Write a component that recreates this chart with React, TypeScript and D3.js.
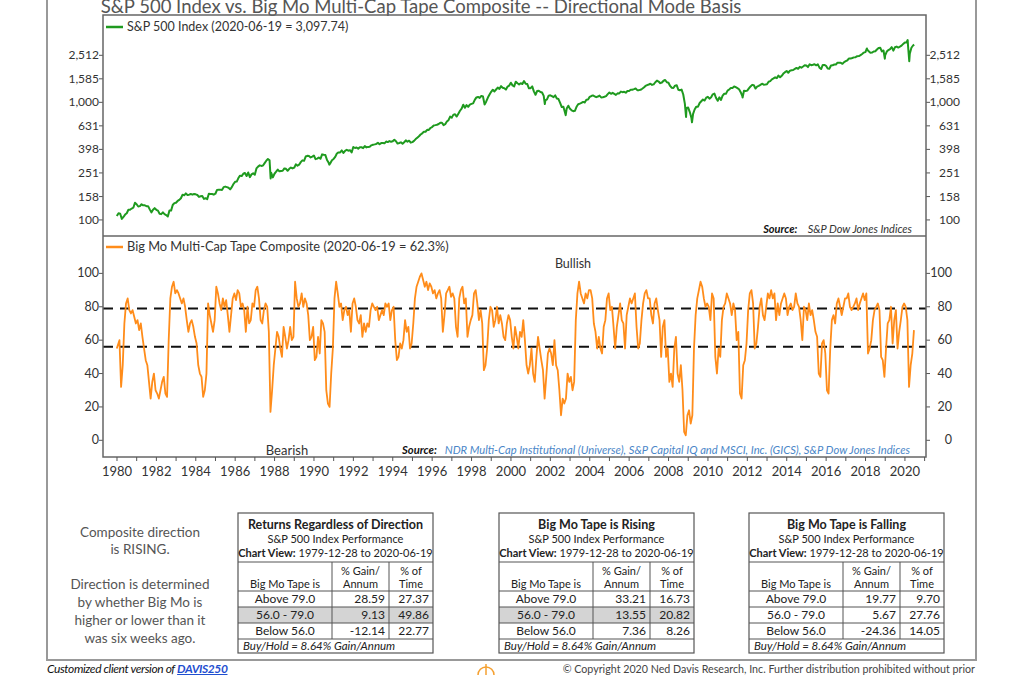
import React from 'react';
import * as d3 from 'd3';

// S&P 500 month-end closes, 1980-01 .. 2020-05 (first point is 1979-12-28)
const spFirst = 107.94;
const spMonthly = [
  114, 113, 102, 106, 111, 114, 122, 122, 125, 127, 140, 136,
  130, 131, 136, 133, 133, 131, 131, 123, 116, 122, 126, 122,
  120, 113, 112, 116, 112, 110, 107, 120, 120, 134, 139, 140,
  145, 148, 153, 164, 162, 168, 163, 164, 166, 164, 166, 165,
  163, 157, 159, 160, 151, 153, 150, 167, 166, 166, 164, 167,
  180, 181, 181, 180, 190, 192, 190, 188, 182, 190, 202, 211,
  212, 227, 238, 236, 247, 251, 236, 253, 231, 244, 249, 242,
  274, 284, 291, 288, 290, 304, 319, 330, 322, 252, 230, 247,
  257, 268, 259, 261, 262, 274, 272, 262, 272, 279, 274, 278,
  297, 289, 295, 310, 321, 318, 346, 351, 349, 340, 346, 353,
  329, 332, 340, 331, 361, 358, 356, 323, 306, 304, 322, 330,
  344, 367, 375, 375, 390, 371, 387, 395, 388, 392, 375, 417,
  409, 413, 404, 415, 415, 408, 424, 414, 418, 419, 431, 436,
  439, 443, 452, 440, 450, 451, 448, 464, 459, 468, 462, 466,
  481, 467, 446, 451, 457, 444, 458, 475, 463, 472, 454, 459,
  470, 487, 501, 515, 533, 545, 562, 562, 584, 582, 605, 616,
  636, 640, 645, 654, 669, 671, 640, 652, 687, 705, 757, 741,
  786, 791, 757, 801, 848, 885, 954, 899, 947, 915, 955, 970,
  980, 1049, 1102, 1112, 1091, 1134, 1121, 957, 1017, 1099, 1164, 1229,
  1280, 1238, 1286, 1335, 1302, 1373, 1329, 1320, 1283, 1363, 1389, 1469,
  1394, 1366, 1499, 1452, 1421, 1455, 1431, 1518, 1437, 1429, 1315, 1320,
  1366, 1240, 1160, 1249, 1256, 1224, 1211, 1134, 1041, 1060, 1139, 1148,
  1130, 1107, 1147, 1077, 1067, 990, 912, 916, 815, 886, 936, 880,
  856, 841, 848, 917, 964, 975, 990, 1008, 996, 1051, 1058, 1112,
  1131, 1145, 1126, 1107, 1121, 1141, 1102, 1104, 1115, 1130, 1174, 1212,
  1181, 1204, 1181, 1157, 1192, 1191, 1234, 1220, 1229, 1207, 1249, 1248,
  1280, 1281, 1295, 1311, 1270, 1270, 1277, 1304, 1336, 1378, 1401, 1418,
  1438, 1407, 1421, 1482, 1531, 1503, 1455, 1474, 1527, 1549, 1481, 1468,
  1379, 1331, 1323, 1386, 1400, 1280, 1267, 1283, 1165, 969, 896, 903,
  826, 735, 798, 873, 919, 919, 987, 1021, 1057, 1036, 1096, 1115,
  1074, 1104, 1169, 1187, 1089, 1031, 1102, 1049, 1141, 1183, 1181, 1258,
  1286, 1327, 1326, 1364, 1345, 1321, 1292, 1219, 1131, 1253, 1247, 1258,
  1312, 1366, 1408, 1398, 1310, 1362, 1379, 1407, 1441, 1412, 1416, 1426,
  1498, 1515, 1569, 1598, 1631, 1606, 1686, 1633, 1682, 1757, 1806, 1848,
  1783, 1859, 1872, 1884, 1924, 1960, 1931, 2003, 1972, 2018, 2068, 2059,
  1995, 2105, 2068, 2086, 2107, 2063, 2104, 1972, 1920, 2079, 2080, 2044,
  1940, 1932, 2060, 2065, 2097, 2099, 2174, 2171, 2168, 2126, 2199, 2239,
  2279, 2364, 2363, 2384, 2412, 2423, 2470, 2472, 2519, 2575, 2648, 2674,
  2824, 2714, 2641, 2648, 2705, 2718, 2816, 2902, 2914, 2712, 2760, 2507,
  2704, 2784, 2834, 2946, 2752, 2942, 2980, 2926, 2977, 3038, 3141, 3231,
  3226, 2954, 2585, 2912, 3044,
];
// intra-month highs/lows visible on the weekly line (fractional year, value)
const spExtra: [number, number][] = [
  [1987.8, 225], [1990.78, 295], [2001.72, 966], [2002.78, 777],
  [2008.89, 752], [2009.19, 677], [2011.76, 1099], [2018.07, 2873],
  [2018.98, 2351], [2020.14, 3386], [2020.22, 2237], [2020.47, 3097.74],
];

// Big Mo Multi-Cap Tape Composite, mid-month readings 1980-01 .. 2020-06
const bigMoMonthly = [
  55, 60, 32, 45, 70, 82, 85, 78, 76, 78, 74, 70,
  72, 66, 70, 62, 55, 48, 45, 35, 25, 35, 40, 30,
  28, 25, 30, 35, 38, 28, 26, 60, 85, 92, 95, 88,
  90, 88, 85, 82, 85, 80, 72, 65, 70, 72, 68, 62,
  58, 45, 40, 38, 26, 30, 40, 82, 75, 70, 65, 72,
  92, 88, 82, 78, 85, 80, 84, 75, 65, 75, 85, 88,
  84, 90, 88, 80, 82, 78, 65, 80, 70, 72, 82, 80,
  90, 92, 85, 72, 70, 78, 82, 80, 65, 17, 30, 45,
  55, 65, 62, 55, 50, 68, 62, 55, 60, 68, 60, 62,
  95, 85, 80, 82, 88, 80, 85, 82, 75, 60, 62, 68,
  48, 50, 62, 52, 72, 70, 65, 30, 22, 20, 40, 55,
  85, 95, 88, 80, 82, 72, 78, 80, 75, 78, 65, 82,
  85, 80, 72, 70, 75, 62, 70, 65, 70, 68, 78, 82,
  80, 78, 80, 72, 75, 78, 75, 82, 80, 82, 72, 78,
  80, 60, 48, 50, 58, 55, 60, 72, 65, 68, 55, 58,
  70, 85, 92, 95, 98, 100, 96, 92, 95, 90, 94, 92,
  88, 90, 85, 88, 90, 85, 65, 75, 88, 90, 92, 86,
  88, 85, 68, 62, 85, 90, 92, 82, 85, 62, 68, 72,
  75, 88, 90, 82, 72, 78, 70, 42, 45, 55, 72, 80,
  78, 68, 72, 80, 70, 75, 70, 62, 60, 70, 75, 72,
  62, 55, 68, 62, 55, 65, 62, 72, 60, 45, 40, 45,
  55, 40, 35, 50, 62, 55, 48, 42, 25, 38, 52, 55,
  52, 45, 60, 45, 42, 30, 15, 25, 22, 25, 40, 35,
  38, 30, 35, 72, 88, 95, 88, 85, 82, 88, 85, 90,
  90, 85, 70, 65, 55, 62, 55, 52, 68, 72, 85, 88,
  78, 80, 68, 55, 68, 75, 82, 72, 70, 55, 75, 80,
  85, 82, 85, 88, 68, 55, 58, 72, 82, 88, 90, 85,
  85, 75, 70, 82, 85, 78, 72, 50, 68, 72, 50, 55,
  35, 40, 32, 55, 62, 40, 35, 45, 30, 5, 3, 15,
  18, 10, 15, 55, 75, 85, 90, 95, 92, 85, 80, 82,
  80, 72, 88, 85, 50, 40, 55, 50, 72, 80, 82, 88,
  85, 82, 75, 82, 78, 60, 65, 28, 25, 45, 48, 58,
  78, 88, 90, 82, 55, 58, 68, 80, 85, 75, 72, 80,
  88, 85, 90, 85, 88, 72, 82, 75, 82, 85, 88, 85,
  75, 80, 82, 78, 80, 88, 82, 80, 72, 60, 80, 78,
  72, 82, 75, 78, 72, 65, 62, 40, 38, 58, 60, 52,
  30, 28, 55, 72, 75, 70, 82, 85, 80, 75, 80, 85,
  85, 88, 80, 78, 80, 82, 85, 78, 82, 85, 88, 84,
  88, 52, 55, 60, 72, 78, 80, 82, 78, 50, 48, 38,
  55, 70, 72, 80, 58, 72, 78, 55, 65, 72, 80, 82,
  80, 72, 32, 45, 52, 66,
];

const spTicks = [100, 158, 251, 398, 631, 1000, 1585, 2512];
const moTicks = [0, 20, 40, 60, 80, 100];
const thresholds = [79, 56];
const yearLabels = [1980, 1982, 1984, 1986, 1988, 1990, 1992, 1994, 1996, 1998, 2000,
  2002, 2004, 2006, 2008, 2010, 2012, 2014, 2016, 2018, 2020];

const tableTitles = ['Returns Regardless of Direction', 'Big Mo Tape is Rising', 'Big Mo Tape is Falling'];
const rowLabels = ['Above 79.0', '56.0 - 79.0', 'Below 56.0'];
const gains = [[28.59, 9.13, -12.14], [33.21, 13.55, 7.36], [19.77, 5.67, -24.36]];
const times = [[27.37, 49.86, 22.77], [16.73, 20.82, 8.26], [9.7, 27.76, 14.05]];
const highlightRow = [1, 1, -1];

const FONT = 'Lato, "Open Sans", sans-serif';
const GREEN = '#1f9a1f';
const ORANGE = '#ff8c1a';

const L = 103, R = 926, T1 = 15, B1 = 236, B2 = 457;

function Table({ i, x0 }: { i: number; x0: number }) {
  const w = 195, c1 = 94, c2 = 151;
  const top = 513, hLine = 562, cLine = 591, rowH = 16, bottom = 653;
  const rows = rowLabels.map((lab, r) => ({ lab, g: gains[i][r], t: times[i][r], y: cLine + r * rowH }));
  const foot = cLine + 3 * rowH;
  return (
    <g fontFamily={FONT} fill="#222">
      {rows.map((r, k) => k === highlightRow[i] ? (
        <rect key={'h' + k} x={x0} y={r.y} width={w} height={rowH} fill="#d4d4d4" />
      ) : null)}
      <rect x={x0} y={top} width={w} height={bottom - top} fill="none" stroke="#555" strokeWidth={1.2} />
      <line x1={x0} x2={x0 + w} y1={hLine} y2={hLine} stroke="#555" />
      <line x1={x0} x2={x0 + w} y1={cLine} y2={cLine} stroke="#555" />
      {rows.map((r, k) => (
        <line key={'l' + k} x1={x0} x2={x0 + w} y1={r.y + rowH} y2={r.y + rowH} stroke="#555" />
      ))}
      <line x1={x0 + c1} x2={x0 + c1} y1={hLine} y2={foot} stroke="#555" />
      <line x1={x0 + c2} x2={x0 + c2} y1={hLine} y2={foot} stroke="#555" />
      <text x={x0 + w / 2} y={529} textAnchor="middle" fontSize={12.5} fontWeight="bold">{tableTitles[i]}</text>
      <text x={x0 + w / 2} y={543} textAnchor="middle" fontSize={11}>S&amp;P 500 Index Performance</text>
      <text x={x0 + w / 2} y={557} textAnchor="middle" fontSize={11}>
        <tspan fontWeight="bold">Chart View:</tspan> 1979-12-28 to 2020-06-19
      </text>
      <text x={x0 + (c1 + c2) / 2} y={575} textAnchor="middle" fontSize={11}>% Gain/</text>
      <text x={x0 + (c1 + c2) / 2} y={588} textAnchor="middle" fontSize={11}>Annum</text>
      <text x={x0 + (c2 + w) / 2} y={575} textAnchor="middle" fontSize={11}>% of</text>
      <text x={x0 + (c2 + w) / 2} y={588} textAnchor="middle" fontSize={11}>Time</text>
      <text x={x0 + c1 / 2} y={588} textAnchor="middle" fontSize={11}>Big Mo Tape is</text>
      {rows.map((r, k) => (
        <g key={'t' + k} fontSize={12}>
          <text x={x0 + c1 / 2} y={r.y + 12} textAnchor="middle">{r.lab}</text>
          <text x={x0 + c2 - 4} y={r.y + 12} textAnchor="end">{r.g.toFixed(2)}</text>
          <text x={x0 + w - 4} y={r.y + 12} textAnchor="end">{r.t.toFixed(2)}</text>
        </g>
      ))}
      <text x={x0 + 5} y={foot + 11} fontSize={11.5} fontStyle="italic">Buy/Hold = 8.64% Gain/Annum</text>
    </g>
  );
}

export default function App() {
  const x = d3.scaleLinear().domain([1979.29, 2021.07]).range([L, R]);
  const ySp = d3.scaleLog().domain([73, 5530]).range([B1, T1]);
  const yMo = d3.scaleLinear().domain([-10, 122.4]).range([B2, B1]);

  const spPts: [number, number][] = [[1979.99, spFirst]];
  spMonthly.forEach((v, i) => spPts.push([1980 + Math.floor(i / 12) + ((i % 12) + 1) / 12 - 0.004, v]));
  spExtra.forEach(p => spPts.push(p));
  spPts.sort((a, b) => a[0] - b[0]);

  const moPts: [number, number][] = bigMoMonthly.map((v, i) => [1980 + Math.floor(i / 12) + ((i % 12) + 0.5) / 12, v]);
  moPts[0] = [1979.99, bigMoMonthly[0]];

  const spPath = d3.line<[number, number]>().x(d => x(d[0])).y(d => ySp(d[1]))(spPts) as string;
  const moPath = d3.line<[number, number]>().x(d => x(d[0])).y(d => yMo(d[1]))(moPts) as string;

  const years = d3.range(1980, 2022);

  return (
    <svg width={1024} height={675} style={{ position: 'absolute', left: 0, top: 0, background: '#fff' }} fontFamily={FONT}>
      {/* outer frame */}
      <path d="M47,-2 V660 H976 V-2" fill="none" stroke="#999" strokeWidth={2} />
      <text x={421} y={13} textAnchor="middle" fontSize={18.5} fill="#555">
        S&amp;P 500 Index vs. Big Mo Multi-Cap Tape Composite -- Directional Mode Basis
      </text>

      {/* top panel */}
      <clipPath id="c1"><rect x={L} y={T1} width={R - L} height={B1 - T1} /></clipPath>
      <path d={spPath} fill="none" stroke={GREEN} strokeWidth={2} clipPath="url(#c1)" strokeLinejoin="round" />
      {spTicks.map(t => (
        <g key={'s' + t} fontSize={12} fill="#333">
          <line x1={L - 4} x2={L} y1={ySp(t)} y2={ySp(t)} stroke="#555" />
          <line x1={R} x2={R + 4} y1={ySp(t)} y2={ySp(t)} stroke="#555" />
          <text x={99} y={ySp(t) + 4} textAnchor="end">{d3.format(',')(t)}</text>
          <text x={960} y={ySp(t) + 4} textAnchor="end">{d3.format(',')(t)}</text>
        </g>
      ))}
      <line x1={106} x2={123} y1={27} y2={27} stroke={GREEN} strokeWidth={2.5} />
      <text x={127} y={31} fontSize={12.5} fill="#333">S&amp;P 500 Index (2020-06-19 = 3,097.74)</text>
      <text x={912} y={233} textAnchor="end" fontSize={11} fontStyle="italic" fill="#333">
        <tspan fontWeight="bold" fill="#111">Source:</tspan>{'\u00a0\u00a0\u00a0 S&P Dow Jones Indices'}
      </text>

      {/* bottom panel */}
      <clipPath id="c2"><rect x={L} y={B1} width={R - L} height={B2 - B1} /></clipPath>
      {thresholds.map(t => (
        <line key={'th' + t} x1={L} x2={R} y1={yMo(t)} y2={yMo(t)} stroke="#111" strokeWidth={2} strokeDasharray="10,7" />
      ))}
      <path d={moPath} fill="none" stroke={ORANGE} strokeWidth={1.8} clipPath="url(#c2)" strokeLinejoin="round" />
      {moTicks.map(t => (
        <g key={'m' + t} fontSize={12.5} fill="#333">
          <line x1={L - 4} x2={L} y1={yMo(t)} y2={yMo(t)} stroke="#555" />
          <line x1={R} x2={R + 4} y1={yMo(t)} y2={yMo(t)} stroke="#555" />
          <text x={99} y={yMo(t) + 4} textAnchor="end">{t}</text>
          <text x={952} y={yMo(t) + 4} textAnchor="end">{t}</text>
        </g>
      ))}
      <line x1={106} x2={123} y1={247} y2={247} stroke={ORANGE} strokeWidth={2.5} />
      <text x={127} y={251} fontSize={12.8} fill="#333">Big Mo Multi-Cap Tape Composite (2020-06-19 = 62.3%)</text>
      <text x={573} y={268} textAnchor="middle" fontSize={12.5} fill="#333">Bullish</text>
      <text x={287} y={455} textAnchor="middle" fontSize={13} fill="#333">Bearish</text>
      <text x={910} y={454} textAnchor="end" fontSize={11.2} fontStyle="italic" fill="#4a86c8">
        <tspan fontWeight="bold" fill="#111">Source:</tspan>
        {'\u00a0\u00a0 NDR Multi-Cap Institutional (Universe), S&P Capital IQ and MSCI, Inc. (GICS), S&P Dow Jones Indices'}
      </text>

      {/* frames */}
      <rect x={L} y={T1} width={R - L} height={B2 - T1} fill="none" stroke="#666" strokeWidth={1.5} />
      <line x1={L} x2={R} y1={B1} y2={B1} stroke="#666" strokeWidth={1.5} />

      {/* x axis */}
      {years.map(yr => (
        <line key={'y' + yr} x1={x(yr)} x2={x(yr)} y1={B2} y2={B2 + 4} stroke="#555" />
      ))}
      {yearLabels.map(yr => (
        <text key={'yl' + yr} x={x(yr)} y={476} textAnchor="middle" fontSize={13} fill="#333">{yr}</text>
      ))}

      {/* notes */}
      <g fontSize={13.5} fill="#555" textAnchor="middle">
        <text x={140} y={537}>Composite direction</text>
        <text x={140} y={554}>is RISING.</text>
        <text x={140} y={589}>Direction is determined</text>
        <text x={140} y={607}>by whether Big Mo is</text>
        <text x={140} y={625}>higher or lower than it</text>
        <text x={140} y={643}>was six weeks ago.</text>
      </g>

      {[238, 499, 749].map((x0, i) => <Table key={i} i={i} x0={x0} />)}

      {/* footer */}
      <text x={47} y={673} fontSize={12} fontStyle="italic" fill="#111" letterSpacing={-0.4}>
        Customized client version of <tspan fill="#1f4fd0" textDecoration="underline" fontWeight="bold">DAVIS250</tspan>
      </text>
      <text x={975} y={673} textAnchor="end" fontSize={10.7} fill="#444">
        © Copyright 2020 Ned Davis Research, Inc. Further distribution prohibited without prior
      </text>
      <g stroke="#f5a030" strokeWidth={1.5} fill="none">
        <line x1={486} x2={486} y1={664} y2={675} />
        <path d="M478,675 A8,8 0 0 1 494,675" />
      </g>
    </svg>
  );
}
